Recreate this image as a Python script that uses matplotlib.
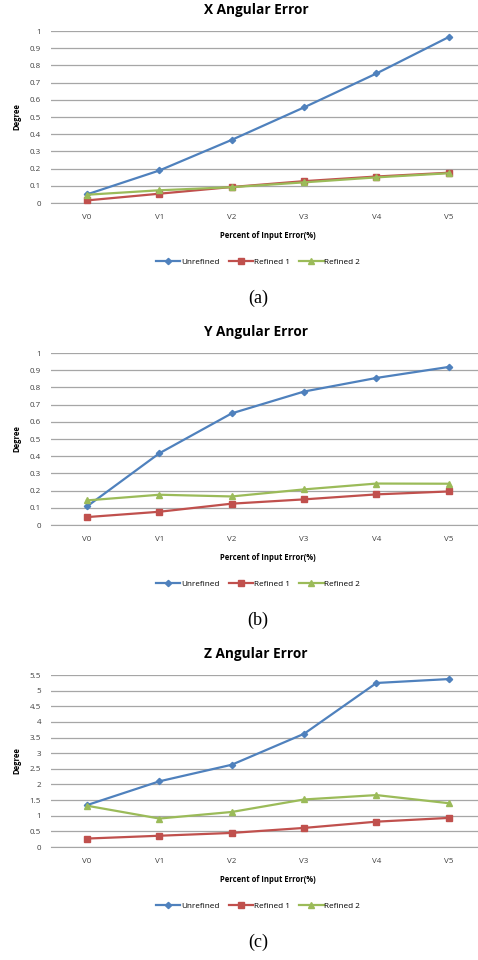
import numpy as np
import matplotlib
matplotlib.use("Agg")
import matplotlib.pyplot as plt

plt.rcParams['font.family'] = ['Open Sans', 'DejaVu Sans']

categories = ['V0', 'V1', 'V2', 'V3', 'V4', 'V5']
series_names = ['Unrefined', 'Refined 1', 'Refined 2']

x_unrefined = [0.05, 0.189, 0.367, 0.556, 0.753, 0.965]
x_refined1 = [0.015, 0.054, 0.093, 0.127, 0.154, 0.176]
x_refined2 = [0.048, 0.074, 0.092, 0.12, 0.149, 0.173]

y_unrefined = [0.108, 0.417, 0.649, 0.776, 0.855, 0.919]
y_refined1 = [0.046, 0.077, 0.124, 0.149, 0.178, 0.195]
y_refined2 = [0.143, 0.176, 0.166, 0.207, 0.241, 0.240]

z_unrefined = [1.34, 2.10, 2.63, 3.62, 5.245, 5.37]
z_refined1 = [0.27, 0.36, 0.45, 0.61, 0.81, 0.93]
z_refined2 = [1.32, 0.91, 1.12, 1.52, 1.66, 1.40]

xy_tick_labels = ['0', '0.1', '0.2', '0.3', '0.4', '0.5', '0.6', '0.7', '0.8', '0.9', '1']
z_tick_labels = ['0', '0.5', '1', '1.5', '2', '2.5', '3', '3.5', '4', '4.5', '5', '5.5']

colors = ['#4F81BD', '#C0504D', '#9BBB59']
markers = ['D', 's', '^']
msizes = [3.2, 5, 5]

W, H = 478, 960
fig = plt.figure(figsize=(W / 100, H / 100), dpi=100)


def panel(top, title, caption, data, labels):
    # top = pixel row of the highest gridline
    left = 50.8
    right = 485
    height = 172
    ax = fig.add_axes([left / W, 1 - (top + height) / H, (right - left) / W, height / H])
    xs = np.arange(len(categories))
    ticks = [float(t) for t in labels]
    handles = []
    for vals, c, m, ms, name in zip(data, colors, markers, msizes, series_names):
        h, = ax.plot(xs, vals, color=c, marker=m, markersize=ms, linewidth=1.6,
                     label=name, clip_on=False, zorder=3)
        handles.append(h)
    ax.set_xlim(-0.5, 5.5)
    ax.set_ylim(ticks[0], ticks[-1])
    ax.set_yticks(ticks)
    ax.set_yticklabels(labels)
    ax.set_xticks(xs)
    ax.set_xticklabels(categories)
    ax.grid(axis='y', color='#a6a6a6', linewidth=0.9)
    ax.set_axisbelow(True)
    for s in ['top', 'right', 'left']:
        ax.spines[s].set_visible(False)
    ax.spines['bottom'].set_color('#a6a6a6')
    ax.tick_params(axis='both', length=0, labelsize=5.8, labelcolor='#404040')
    ax.tick_params(axis='x', pad=8)
    ax.tick_params(axis='y', pad=7)
    ax.set_ylabel('Degree', fontsize=5.5, fontweight='bold', labelpad=6)
    ax.set_xlabel('Percent of Input Error(%)', fontsize=5.5, fontweight='bold', labelpad=7)
    fig.text(256 / W, 1 - (top - 21) / H, title, ha='center', va='center',
             fontsize=9.8, fontweight='bold')
    fig.legend(handles=handles, loc='center', bbox_to_anchor=(258 / W, 1 - (top + 231) / H),
               ncol=3, frameon=False, fontsize=5.9, handlelength=3.0, columnspacing=1.1,
               handletextpad=0.1)
    fig.text(258 / W, 1 - (top + 267) / H, caption, ha='center', va='center',
             fontsize=13, family='Liberation Serif')
    return ax


panel(31, 'X Angular Error', '(a)', [x_unrefined, x_refined1, x_refined2], xy_tick_labels)
panel(353, 'Y Angular Error', '(b)', [y_unrefined, y_refined1, y_refined2], xy_tick_labels)
panel(675, 'Z Angular Error', '(c)', [z_unrefined, z_refined1, z_refined2], z_tick_labels)

fig.savefig('out.png', dpi=100)
